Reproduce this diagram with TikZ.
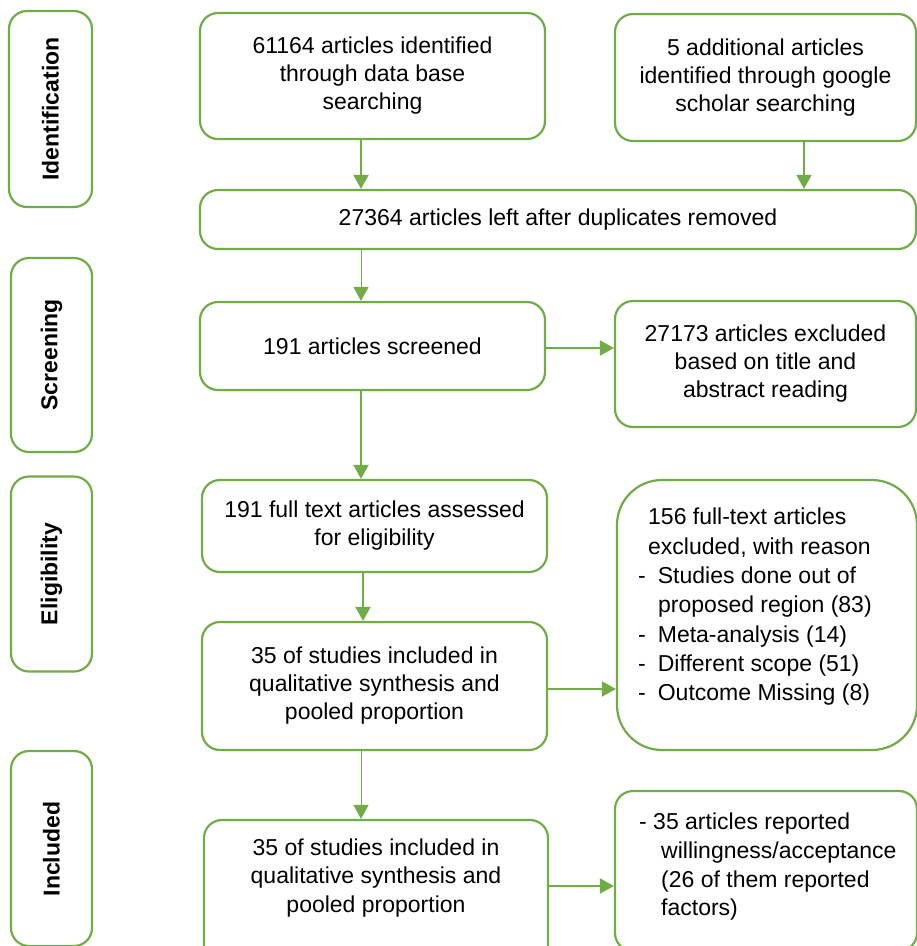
\documentclass[tikz,border=0pt]{standalone}
\usepackage{fontspec}
\setmainfont{Liberation Sans}
\usetikzlibrary{arrows.meta}
\definecolor{pg}{RGB}{112,173,71}
\begin{document}
\begin{tikzpicture}[x=1pt,y=-1pt,
  box/.style={draw=pg,line width=2.2pt,rounded corners=18pt,inner sep=0pt,
    font=\fontsize{23}{28}\selectfont,align=center},
  side/.style={box},
  sidetext/.style={rotate=90,font=\fontsize{23}{26}\selectfont\bfseries},
  arr/.style={draw=pg,line width=2pt,-{Triangle[length=14pt,width=15pt]}},
  thin/.style={arr,line width=1pt}]
\useasboundingbox (0,0) rectangle (917,946);
\clip (0,0) rectangle (917,946);
% side labels
\node[side,minimum width=83pt,minimum height=196pt] (s1) at (50.5,109) {};
\node[sidetext] (t1) at (s1) {Identification};
\node[side,minimum width=81pt,minimum height=194pt] (s2) at (51.5,355) {};
\node[sidetext] (t2) at (s2) {Screening};
\node[side,minimum width=81pt,minimum height=195pt] (s3) at (51.5,574) {};
\node[sidetext] (t3) at (s3) {Eligibility};
\node[side,minimum width=81pt,minimum height=195pt] (s4) at (51.5,848.5) {};
\node[sidetext] (t4) at (51.5,849) {Included};
% main boxes
\node[box,minimum width=345pt,minimum height=126pt] (b1) at (372.5,76)
  {\raisebox{3pt}{\begin{tabular}{@{}c@{}}61164 articles identified\\through data base\\searching\end{tabular}}};
\node[box,minimum width=301pt,minimum height=127pt] (b2) at (765.5,77.5)
  {\raisebox{2pt}{\begin{tabular}{@{}c@{}}5 additional articles\\identified through google\\scholar searching\end{tabular}}};
\node[box,minimum width=716pt,minimum height=59pt] (dup) at (558,219.5)
  {\raisebox{3pt}{27364 articles left after duplicates removed}};
\node[box,minimum width=345pt,minimum height=88pt] (scr) at (372.5,346)
  {191 articles screened};
\node[box,minimum width=301pt,minimum height=126pt] (ex1) at (765.5,364)
  {\raisebox{6pt}{\begin{tabular}{@{}c@{}}27173 articles excluded\\based on title and\\abstract reading\end{tabular}}};
\node[box,minimum width=345pt,minimum height=92pt] (ft) at (374.5,526)
  {\raisebox{4pt}{\begin{tabular}{@{}c@{}}191 full text articles assessed\\for eligibility\end{tabular}}};
\node[box,minimum width=345pt,minimum height=128pt] (q1) at (374.5,686)
  {\raisebox{5pt}{\begin{tabular}{@{}c@{}}35 of studies included in\\qualitative synthesis and\\pooled proportion\end{tabular}}};
\node[box,rounded corners=45pt,minimum width=300pt,minimum height=270pt] (ex2) at (767,615) {};
\node[box,minimum width=344pt,minimum height=150pt] (q2) at (376,895) {};
\node[box,minimum width=302pt,minimum height=160pt] (fin) at (766,871) {};
% texts
\node[font=\fontsize{23}{29.3}\selectfont,align=left,anchor=north west,inner sep=0pt] (ex2t) at (638,508)
  {\hspace*{10pt}156 full-text articles\\
   \hspace*{10pt}excluded, with reason\\
   -\hspace{12pt}Studies done out of\\
   \hspace*{20pt}proposed region (83)\\
   -\hspace{12pt}Meta-analysis (14)\\
   -\hspace{12pt}Different scope (51)\\
   -\hspace{12pt}Outcome Missing (8)};
\node[font=\fontsize{23}{28.7}\selectfont,align=center,inner sep=0pt] (q2t) at (376,878)
  {35 of studies included in\\qualitative synthesis and\\pooled proportion};
\node[font=\fontsize{23}{28.7}\selectfont,align=left,anchor=north west,inner sep=0pt] (fint) at (639,813)
  {- 35 articles reported\\
   \hspace*{22pt}willingness/acceptance\\
   \hspace*{22pt}(26 of them reported\\
   \hspace*{22pt}factors)};
% arrows
\draw[arr] ([xshift=-11.5pt]b1.south) -- ([xshift=-11.5pt]b1.south |- dup.north);
\draw[arr] ([xshift=38.5pt]b2.south) -- ([xshift=38.5pt]b2.south |- dup.north);
\draw[thin] ([xshift=-197pt]dup.south) -- ([xshift=-197pt]dup.south |- scr.north);
\draw[arr] ([xshift=-11.5pt]scr.south) -- ([xshift=-11.5pt]scr.south |- ft.north);
\draw[arr] ([yshift=-2pt]scr.east) -- ([yshift=-2pt]scr.east -| ex1.west);
\draw[arr] ([yshift=-3pt]q1.east) -- ([yshift=-3pt]q1.east -| ex2.west);
\draw[arr] ([xshift=-11.5pt]ft.south) -- ([xshift=-11.5pt]ft.south |- q1.north);
\draw[thin] ([xshift=-13.5pt]q1.south) -- ([xshift=-13.5pt]q1.south |- q2.north);
\draw[arr] (548,886) coordinate (c1) -- (c1 -| fin.west);
\end{tikzpicture}
\end{document}
